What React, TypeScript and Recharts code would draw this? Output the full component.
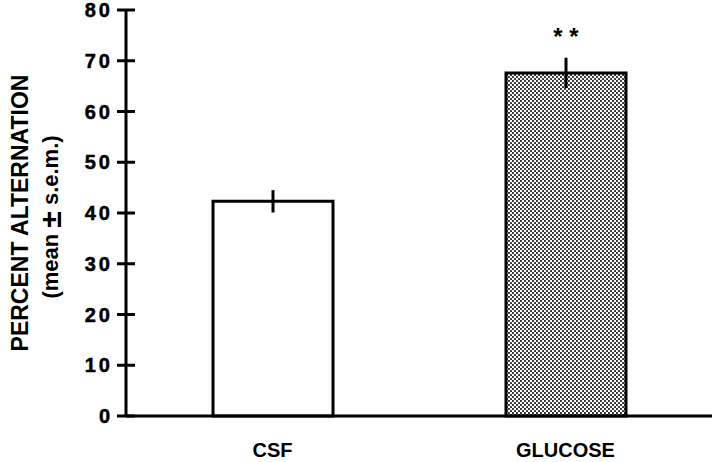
import { BarChart, Bar, XAxis, YAxis, ErrorBar, LabelList, Cell } from "recharts";

const groups = ["CSF", "GLUCOSE"];
const means = [42.3, 67.6];
const sems = [2.2, 3.0];
const marks = ["", "* *"];
const fills = ["#fff", "url(#dots)"];
const yTicks = [0, 10, 20, 30, 40, 50, 60, 70, 80];

const data = groups.map((g, i) => ({ name: g, mean: means[i], err: sems[i], sig: marks[i] }));

const FONT = "'Liberation Sans', Arial, sans-serif";

// y ticks cross the axis line, as in the original figure
const YTick = (props: any) => {
  const { x, y, payload } = props;
  return (
    <g>
      <line x1={x - 9} x2={x + 9} y1={y} y2={y} stroke="#000" strokeWidth={3} />
      <text
        x={x - 13}
        y={y}
        textAnchor="end"
        dominantBaseline="central"
        fontFamily={FONT}
        fontWeight="bold"
        fontSize={20}
        letterSpacing={3}
        stroke="#000"
        strokeWidth={0.5}
        fill="#000"
      >
        {payload.value}
      </text>
    </g>
  );
};

const XTick = (props: any) => {
  const { x, y, payload } = props;
  return (
    <text
      x={x}
      y={y + 34}
      textAnchor="middle"
      dominantBaseline="central"
      fontFamily={FONT}
      fontWeight="bold"
      fontSize={20}
      fill="#000"
    >
      {payload.value}
    </text>
  );
};

const YLabel = (props: any) => {
  const vb = props.viewBox || {};
  const cy = (vb.y ?? 10) + (vb.height ?? 406) / 2;
  return (
    <g fontFamily={FONT} fontWeight="bold" fill="#000">
      <text
        x={20}
        y={cy}
        transform={`rotate(-90, 20, ${cy})`}
        textAnchor="middle"
        dominantBaseline="central"
        fontSize={23}
      >
        PERCENT ALTERNATION
      </text>
      <text
        x={50}
        y={cy + 4}
        transform={`rotate(-90, 50, ${cy + 4})`}
        textAnchor="middle"
        dominantBaseline="central"
        fontSize={22}
      >
        (mean <tspan fontSize={30}>±</tspan> s.e.m.)
      </text>
    </g>
  );
};

const Stars = (props: any) => {
  const { x, y, width, value } = props;
  if (!value) return null;
  return (
    <text
      x={x + width / 2}
      y={y - 36}
      textAnchor="middle"
      dominantBaseline="central"
      fontFamily={FONT}
      fontWeight="bold"
      fontSize={24}
      fill="#000"
    >
      {value}
    </text>
  );
};

export default function App() {
  return (
    <div style={{ position: "absolute", left: 0, top: 0, background: "#fff" }}>
      <BarChart
        width={720}
        height={462}
        data={data}
        margin={{ top: 10, right: 8, bottom: 0, left: 0 }}
      >
        <defs>
          <pattern id="dots" width="4" height="4" patternUnits="userSpaceOnUse">
            <rect width="4" height="4" fill="#fff" />
            <circle cx="1" cy="1" r="1.05" fill="#222" />
            <circle cx="3" cy="3" r="1.05" fill="#222" />
          </pattern>
        </defs>
        <XAxis
          dataKey="name"
          height={46}
          axisLine={{ stroke: "#000", strokeWidth: 3 }}
          tickLine={false}
          tickSize={0}
          tickMargin={0}
          tick={<XTick />}
          interval={0}
        />
        <XAxis xAxisId="top" orientation="top" dataKey="name" height={0} axisLine={{ stroke: "#000", strokeWidth: 3 }} tick={false} tickLine={false} />
        <YAxis
          width={126}
          domain={[0, 80]}
          ticks={yTicks}
          interval={0}
          axisLine={{ stroke: "#000", strokeWidth: 3 }}
          tickLine={false}
          tickSize={0}
          tickMargin={0}
          tick={<YTick />}
          label={<YLabel />}
        />
        <YAxis yAxisId="right" orientation="right" width={0} domain={[0, 80]} axisLine={{ stroke: "#000", strokeWidth: 3 }} tick={false} tickLine={false} />
        <Bar dataKey="mean" barSize={120} stroke="#000" strokeWidth={3} isAnimationActive={false}>
          {data.map((d, i) => (
            <Cell key={d.name} fill={fills[i]} />
          ))}
          <ErrorBar dataKey="err" width={0} stroke="#000" strokeWidth={3} direction="y" />
          <LabelList dataKey="sig" content={<Stars />} />
        </Bar>
      </BarChart>
    </div>
  );
}
